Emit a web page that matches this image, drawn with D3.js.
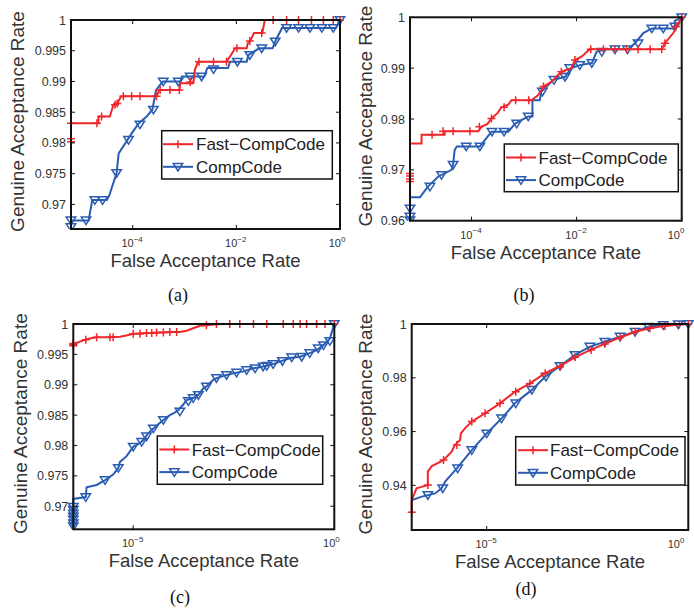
<!DOCTYPE html>
<html>
<head>
<meta charset="utf-8">
<script src="https://cdn.jsdelivr.net/npm/d3@7"></script>
<style>
body { margin: 0; background: #fff; }
svg { display: block; }
text { font-family: Arial, "Liberation Sans", Helvetica, sans-serif; }
</style>
</head>
<body>
<svg width="694" height="609"></svg>
<script>
// points are [log10(FAR), GAR]
var redA = [[-5.19,0.9802],[-5.19,0.9832],[-4.66,0.9832],[-4.66,0.9843],[-4.44,0.9843],[-4.38,0.9860],[-4.30,0.9864],[-4.22,0.9876],[-3.54,0.9876],[-3.49,0.9886],[-3.10,0.9886],[-3.08,0.9897],[-2.83,0.9897],[-2.80,0.9919],[-2.74,0.9932],[-2.19,0.9932],[-2.12,0.9941],[-2.02,0.9954],[-1.80,0.9954],[-1.78,0.9962],[-1.72,0.9968],[-1.66,0.9979],[-1.50,0.9979],[-1.45,1.0],[0,1.0]];
var redAMarks = [[-5.19,0.9807],[-5.19,0.9802],[-5.19,0.9832],[-4.69,0.9832],[-4.60,0.9843],[-4.34,0.9862],[-4.30,0.9864],[-4.18,0.9876],[-4.02,0.9876],[-3.86,0.9876],[-3.54,0.9876],[-3.47,0.9886],[-3.28,0.9886],[-3.10,0.9886],[-2.89,0.9899],[-2.72,0.9932],[-2.44,0.9932],[-2.19,0.9932],[-1.99,0.9954],[-1.74,0.9966],[-1.51,0.9979],[-1.29,1],[-1.03,1],[-0.80,1],[-0.55,1],[-0.32,1],[-0.13,1],[0,1]];
var blueA = [[-5.19,0.9663],[-5.19,0.9674],[-4.85,0.9674],[-4.78,0.9707],[-4.50,0.9707],[-4.45,0.9715],[-4.40,0.9728],[-4.31,0.9751],[-4.27,0.9783],[-4.10,0.9805],[-4.00,0.9818],[-3.88,0.9832],[-3.73,0.9843],[-3.62,0.9854],[-3.55,0.9886],[-3.42,0.9900],[-3.08,0.9900],[-3.05,0.9908],[-2.62,0.9908],[-2.56,0.9922],[-2.16,0.9922],[-2.12,0.9932],[-1.80,0.9932],[-1.77,0.9943],[-1.56,0.9954],[-1.30,0.9954],[-1.25,0.9965],[-1.12,0.9987],[-0.08,0.9987],[0,1.0]];
var blueAMarks = [[-5.19,0.9663],[-5.19,0.9674],[-4.90,0.9674],[-4.73,0.9707],[-4.58,0.9707],[-4.31,0.9751],[-4.08,0.9805],[-3.86,0.9830],[-3.60,0.9854],[-3.41,0.9900],[-3.12,0.9900],[-2.89,0.9908],[-2.67,0.9908],[-2.44,0.9920],[-1.98,0.9932],[-1.74,0.9943],[-1.51,0.9954],[-1.25,0.9965],[-1.03,0.9987],[-0.80,0.9987],[-0.58,0.9987],[-0.35,0.9987],[-0.13,0.9987],[0,1.0]];

var redB = [[-5.17,0.9677],[-5.17,0.9752],[-4.95,0.9752],[-4.95,0.9769],[-4.51,0.9769],[-4.51,0.9776],[-3.87,0.9776],[-3.81,0.9785],[-3.70,0.9790],[-3.62,0.9801],[-3.50,0.9812],[-3.43,0.9823],[-3.30,0.9828],[-3.24,0.9837],[-2.86,0.9837],[-2.73,0.9847],[-2.63,0.9864],[-2.48,0.9873],[-2.29,0.9893],[-2.10,0.9900],[-2.03,0.9916],[-1.90,0.9923],[-1.75,0.9937],[-0.38,0.9937],[-0.32,0.9949],[-0.16,0.9969],[-0.10,0.9982],[0,1.0]];
var redBMarks = [[-5.17,0.9677],[-5.17,0.9682],[-5.17,0.9688],[-5.17,0.9693],[-4.75,0.9769],[-4.54,0.9776],[-4.35,0.9776],[-4.03,0.9776],[-3.85,0.9785],[-3.62,0.9801],[-3.38,0.9823],[-3.16,0.9837],[-2.91,0.9837],[-2.63,0.9864],[-2.29,0.9893],[-2.03,0.9916],[-1.73,0.9937],[-1.49,0.9937],[-1.27,0.9937],[-1.05,0.9937],[-0.83,0.9937],[-0.60,0.9937],[-0.38,0.9937],[-0.32,0.9949],[-0.11,0.9982],[0,1.0]];
var blueB = [[-5.17,0.9601],[-5.17,0.9646],[-4.98,0.9646],[-4.83,0.9667],[-4.63,0.9687],[-4.38,0.9700],[-4.35,0.9710],[-4.32,0.9739],[-4.28,0.9746],[-3.84,0.9746],[-3.62,0.9775],[-3.30,0.9775],[-3.17,0.9791],[-2.92,0.9805],[-2.84,0.9805],[-2.84,0.9837],[-2.70,0.9837],[-2.67,0.9854],[-2.44,0.9877],[-2.22,0.9883],[-2.10,0.9900],[-1.94,0.9906],[-1.71,0.9910],[-1.62,0.9932],[-1.46,0.9937],[-1.02,0.9937],[-0.89,0.9949],[-0.73,0.9969],[-0.57,0.9978],[-0.13,0.9978],[-0.13,0.9993],[0,1.0]];
var blueBMarks = [[-5.17,0.9601],[-5.17,0.9608],[-5.17,0.9624],[-4.79,0.9667],[-4.57,0.9690],[-4.35,0.9710],[-4.10,0.9746],[-3.84,0.9746],[-3.61,0.9775],[-3.38,0.9775],[-3.14,0.9791],[-2.92,0.9805],[-2.65,0.9854],[-2.43,0.9877],[-2.22,0.9883],[-2.13,0.9900],[-1.94,0.9906],[-1.71,0.9910],[-1.52,0.9932],[-1.27,0.9937],[-1.03,0.9937],[-0.83,0.9949],[-0.57,0.9978],[-0.35,0.9978],[-0.13,0.9982],[0,1.0]];

var redC = [[-6.49,0.9964],[-6.45,0.9968],[-6.24,0.9973],[-6.08,0.9976],[-5.91,0.9978],[-5.58,0.9978],[-5.33,0.9979],[-5.17,0.9981],[-5.00,0.9984],[-4.59,0.9985],[-4.00,0.9987],[-3.84,0.9987],[-3.67,0.9989],[-3.51,0.9993],[-3.34,0.9997],[-3.18,0.9998],[-2.93,0.99995],[-2.68,1.0],[0,1.0]];
var redCMarks = [[-6.49,0.9964],[-6.49,0.9966],[-6.49,0.9968],[-6.18,0.9974],[-5.91,0.9978],[-5.58,0.9978],[-5.50,0.9978],[-5.00,0.9984],[-4.83,0.9984],[-4.67,0.9985],[-4.54,0.9985],[-4.42,0.9986],[-4.25,0.9986],[-4.09,0.9987],[-3.92,0.9987],[-3.18,0.9998],[-2.93,1.0],[-2.60,1.0],[-2.35,1.0],[-2.01,1.0],[-1.68,1.0],[-1.27,1.0],[-1.02,1.0],[-0.85,1.0],[-0.69,1.0],[-0.44,1.0],[-0.23,1.0],[0,1.0]];
var blueC = [[-6.49,0.9662],[-6.49,0.9712],[-6.18,0.9715],[-6.16,0.9731],[-5.91,0.9735],[-5.70,0.9743],[-5.50,0.9752],[-5.37,0.9763],[-5.33,0.9773],[-5.17,0.9782],[-5.00,0.9798],[-4.83,0.9804],[-4.75,0.9809],[-4.63,0.9820],[-4.50,0.9828],[-4.34,0.9837],[-4.25,0.9842],[-4.09,0.9850],[-4.00,0.9853],[-3.88,0.9858],[-3.76,0.9867],[-3.67,0.9875],[-3.51,0.9878],[-3.38,0.9883],[-3.26,0.9894],[-3.18,0.9897],[-3.01,0.9908],[-2.93,0.9911],[-2.68,0.9916],[-2.51,0.9919],[-2.26,0.9922],[-2.01,0.9927],[-1.77,0.9930],[-1.52,0.9934],[-1.35,0.9938],[-1.10,0.9944],[-0.85,0.9946],[-0.61,0.9952],[-0.44,0.9957],[-0.27,0.9965],[-0.11,0.9976],[-0.07,0.9985],[0,1.0]];
var blueCMarks = [[-6.49,0.9667],[-6.49,0.9672],[-6.49,0.9678],[-6.49,0.9683],[-6.49,0.9688],[-6.49,0.9694],[-6.49,0.9699],[-6.18,0.9715],[-5.70,0.9743],[-5.37,0.9763],[-5.00,0.9798],[-4.79,0.9806],[-4.67,0.9815],[-4.50,0.9828],[-4.25,0.9842],[-3.84,0.9856],[-3.63,0.9873],[-3.51,0.9878],[-3.38,0.9883],[-3.18,0.9897],[-2.93,0.9911],[-2.68,0.9916],[-2.43,0.9920],[-2.18,0.9924],[-1.97,0.9927],[-1.77,0.9930],[-1.68,0.9931],[-1.52,0.9934],[-1.29,0.9939],[-1.06,0.9945],[-0.81,0.9946],[-0.61,0.9952],[-0.40,0.9960],[-0.27,0.9965],[-0.11,0.9972],[0,1.0]];

var redD = [[-6.86,0.9300],[-6.86,0.9345],[-6.74,0.9389],[-6.46,0.9401],[-6.46,0.9451],[-6.36,0.9472],[-6.07,0.9494],[-5.87,0.9525],[-5.79,0.9550],[-5.66,0.9569],[-5.64,0.9593],[-5.54,0.9612],[-5.37,0.9637],[-5.04,0.9668],[-4.67,0.9705],[-4.30,0.9748],[-3.93,0.9779],[-3.55,0.9817],[-3.22,0.9841],[-2.81,0.9876],[-2.44,0.9903],[-2.07,0.9926],[-1.69,0.9950],[-1.32,0.9971],[-0.95,0.9984],[-0.58,0.9993],[-0.22,0.9998],[0,1.0]];
var redDMarks = [[-6.86,0.9300],[-6.46,0.9401],[-6.07,0.9494],[-5.74,0.9550],[-5.37,0.9637],[-5.04,0.9668],[-4.67,0.9705],[-4.28,0.9748],[-3.93,0.9779],[-3.55,0.9817],[-3.18,0.9841],[-2.81,0.9876],[-2.41,0.9903],[-2.07,0.9926],[-1.69,0.9950],[-1.32,0.9971],[-0.95,0.9984],[-0.58,0.9993],[-0.22,0.9998],[0,1.0]];
var blueD = [[-6.86,0.9345],[-6.61,0.9358],[-6.28,0.9370],[-6.12,0.9389],[-6.03,0.9414],[-5.74,0.9463],[-5.37,0.9531],[-5.00,0.9593],[-4.63,0.9649],[-4.30,0.9705],[-3.88,0.9755],[-3.55,0.9804],[-3.18,0.9844],[-2.81,0.9885],[-2.44,0.9916],[-2.07,0.9934],[-1.69,0.9953],[-1.32,0.9971],[-0.99,0.9990],[-0.62,0.9996],[-0.25,0.9999],[0,1.0]];
var blueDMarks = [[-6.46,0.9364],[-6.09,0.9389],[-5.72,0.9463],[-5.37,0.9531],[-5.00,0.9593],[-4.63,0.9649],[-4.28,0.9705],[-3.88,0.9755],[-3.53,0.9804],[-3.18,0.9844],[-2.81,0.9885],[-2.44,0.9916],[-2.07,0.9934],[-1.69,0.9953],[-1.32,0.9971],[-0.99,0.9990],[-0.62,0.9996],[-0.25,0.9999],[0,1.0]];

var yTicksA = [0.97, 0.975, 0.98, 0.985, 0.99, 0.995, 1];
var yTicksB = [0.96, 0.97, 0.98, 0.99, 1];
var yTicksD = [0.94, 0.96, 0.98, 1];
var xTicksAB = [-4, -2, 0];
var xTicksCD = [-5, 0];

var seriesNames = ["Fast\u2212CompCode", "CompCode"];
var captions = ["(a)", "(b)", "(c)", "(d)"];

var RED = "#f0262b", BLUE = "#2a5db2";

var svg = d3.select("svg");

var panels = [
    {left: 71, right: 340, top: 20, bottom: 229, xmin: -5.19, ymin: 0.966, yTicks: yTicksA, xTicks: xTicksAB,
     red: redA, redMarks: redAMarks, blue: blueA, blueMarks: blueAMarks, ylabX: 24,
     legend: {x: 161.7, y: 130.7, w: 170.6, h: 48.3, lx: 163, tx: 196}, cap: {x: 178, y: 301}},
    {left: 410, right: 681.7, top: 17.3, bottom: 220.7, xmin: -5.17, ymin: 0.96, yTicks: yTicksB, xTicks: xTicksAB,
     red: redB, redMarks: redBMarks, blue: blueB, blueMarks: blueBMarks, ylabX: 372,
     legend: {x: 504.3, y: 144, w: 174, h: 47.7, lx: 506, tx: 538.5}, cap: {x: 524, y: 301}},
    {left: 73.3, right: 334.3, top: 324, bottom: 529.3, xmin: -6.49, ymin: 0.9662, yTicks: yTicksA, xTicks: xTicksCD,
     red: redC, redMarks: redCMarks, blue: blueC, blueMarks: blueCMarks, ylabX: 26.5,
     legend: {x: 157.3, y: 436, w: 165.4, h: 48.3, lx: 159.3, tx: 191.7}, cap: {x: 180, y: 603}},
    {left: 411.7, right: 688.3, top: 324, bottom: 530, xmin: -6.86, ymin: 0.9234, yTicks: yTicksD, xTicks: xTicksCD,
     red: redD, redMarks: redDMarks, blue: blueD, blueMarks: blueDMarks, ylabX: 372,
     legend: {x: 515.7, y: 436.7, w: 169.3, h: 48.3, lx: 518, tx: 550}, cap: {x: 526, y: 595}}
];

var plusPath = "M-4,0H4M0,-4V4";
var triPath = "M-4.7,-3.3L4.7,-3.3L0,4.2Z";

function drawMarks(g, pts, x, y, path, color) {
    g.selectAll(null)
        .data(pts)
        .enter().append("path")
        .attr("d", path)
        .attr("transform", function (d) {
            return "translate(" + x(Math.pow(10, d[0])) + "," + y(d[1]) + ")";
        })
        .attr("fill", "none")
        .attr("stroke", color)
        .attr("stroke-width", 1.5);
}

panels.forEach(function (p, i) {
    var x = d3.scaleLog().domain([Math.pow(10, p.xmin), 1]).range([p.left, p.right]);
    var y = d3.scaleLinear().domain([p.ymin, 1]).range([p.bottom, p.top]);
    var g = svg.append("g");

    g.append("clipPath").attr("id", "clip" + i)
        .append("rect")
        .attr("x", p.left - 6).attr("y", p.top - 6)
        .attr("width", p.right - p.left + 12).attr("height", p.bottom - p.top + 6);

    var line = d3.line()
        .x(function (d) { return x(Math.pow(10, d[0])); })
        .y(function (d) { return y(d[1]); });

    var plot = g.append("g").attr("clip-path", "url(#clip" + i + ")");
    plot.append("path").datum(p.blue)
        .attr("d", line).attr("fill", "none")
        .attr("stroke", BLUE).attr("stroke-width", 2);
    drawMarks(plot, p.blueMarks, x, y, triPath, BLUE);
    plot.append("path").datum(p.red)
        .attr("d", line).attr("fill", "none")
        .attr("stroke", RED).attr("stroke-width", 2);
    drawMarks(plot, p.redMarks, x, y, plusPath, RED);

    // ticks on all four sides
    p.xTicks.forEach(function (e) {
        var tx = x(Math.pow(10, e));
        g.append("line").attr("x1", tx).attr("x2", tx).attr("y1", p.bottom).attr("y2", p.bottom - 4)
            .attr("stroke", "#111").attr("stroke-width", 1);
        g.append("line").attr("x1", tx).attr("x2", tx).attr("y1", p.top).attr("y2", p.top + 4)
            .attr("stroke", "#111").attr("stroke-width", 1);
        var t = g.append("text")
            .attr("class", "xtl")
            .attr("x", Math.min(tx + 1, 680)).attr("y", p.bottom + 18)
            .attr("text-anchor", "end")
            .attr("font-size", 11).attr("fill", "#333")
            .text("10");
        t.append("tspan").attr("dy", -5.5).attr("font-size", 8)
            .text(e === 0 ? "0" : "\u2212" + Math.abs(e));
    });
    // "10" ends at the tick, exponent hangs to its right
    g.selectAll("text.xtl").each(function () {
        var sup = this.lastChild.getComputedTextLength();
        this.setAttribute("x", +this.getAttribute("x") + sup);
    });

    p.yTicks.forEach(function (v) {
        var ty = y(v);
        g.append("line").attr("x1", p.left).attr("x2", p.left + 4).attr("y1", ty).attr("y2", ty)
            .attr("stroke", "#111").attr("stroke-width", 1);
        g.append("line").attr("x1", p.right).attr("x2", p.right - 4).attr("y1", ty).attr("y2", ty)
            .attr("stroke", "#111").attr("stroke-width", 1);
        g.append("text")
            .attr("x", p.left - 5).attr("y", ty).attr("dy", "0.36em")
            .attr("text-anchor", "end")
            .attr("font-size", 12.5).attr("fill", "#333")
            .text(String(v));
    });

    g.append("rect")
        .attr("x", p.left).attr("y", p.top)
        .attr("width", p.right - p.left).attr("height", p.bottom - p.top)
        .attr("fill", "none").attr("stroke", "#111").attr("stroke-width", 2);

    // axis labels
    g.append("text")
        .attr("x", (p.left + p.right) / 2).attr("y", p.bottom + 38)
        .attr("text-anchor", "middle").attr("font-size", 18.5).attr("fill", "#333")
        .text("False Acceptance Rate");
    g.append("text")
        .attr("transform", "translate(" + p.ylabX + "," + ((p.top + p.bottom) / 2 - 3) + ") rotate(-90)")
        .attr("text-anchor", "middle").attr("font-size", 19).attr("fill", "#333")
        .text("Genuine Acceptance Rate");

    // legend
    var L = p.legend;
    g.append("rect").attr("x", L.x).attr("y", L.y).attr("width", L.w).attr("height", L.h)
        .attr("fill", "#fff").attr("stroke", "#111").attr("stroke-width", 1.5);
    [[RED, plusPath], [BLUE, triPath]].forEach(function (s, k) {
        var ry = L.y + 13.5 + k * 22.6;
        g.append("line").attr("x1", L.lx).attr("x2", L.lx + 30).attr("y1", ry).attr("y2", ry)
            .attr("stroke", s[0]).attr("stroke-width", 2);
        g.append("path").attr("d", s[1]).attr("transform", "translate(" + (L.lx + 15) + "," + ry + ")")
            .attr("fill", "none").attr("stroke", s[0]).attr("stroke-width", 1.5);
        g.append("text").attr("x", L.tx).attr("y", ry).attr("dy", "0.36em")
            .attr("font-size", 17).attr("fill", "#222")
            .text(seriesNames[k]);
    });

    g.append("text")
        .attr("x", p.cap.x).attr("y", p.cap.y)
        .attr("text-anchor", "middle")
        .style("font-family", "'Liberation Serif', 'Times New Roman', serif")
        .attr("font-size", 18).attr("fill", "#111")
        .text(captions[i]);
});
</script>
</body>
</html>
